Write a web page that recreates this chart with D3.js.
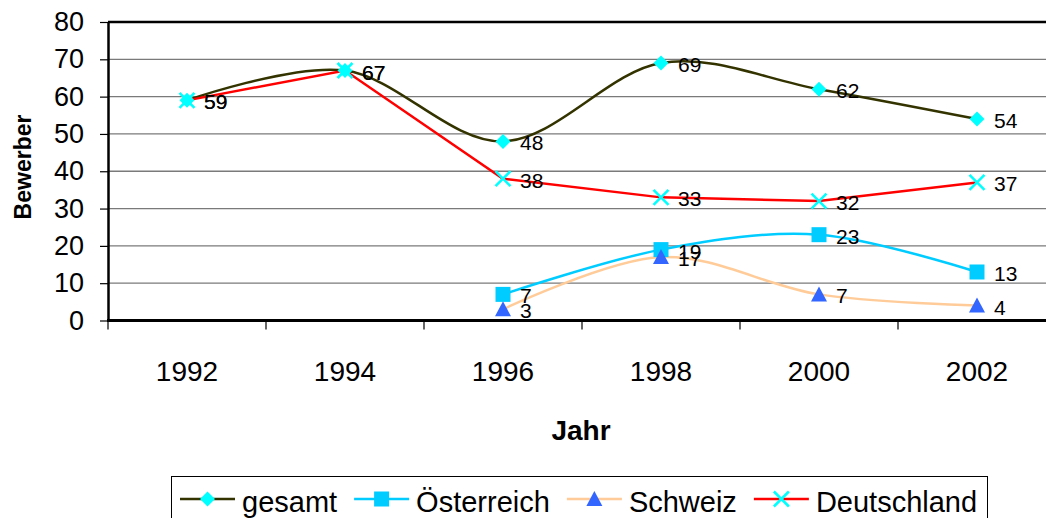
<!DOCTYPE html>
<html>
<head>
<meta charset="utf-8">
<script src="https://cdn.jsdelivr.net/npm/d3@7"></script>
<style>
body { margin: 0; background: #fff; }
svg { display: block; font-family: "Liberation Sans", Arial, sans-serif; }
</style>
</head>
<body>
<svg></svg>
<script>
// values
var years = ["1992", "1994", "1996", "1998", "2000", "2002"];
var gesamt = [59, 67, 48, 69, 62, 54];
var oesterreich = [null, null, 7, 19, 23, 13];
var schweiz = [null, null, 3, 17, 7, 4];
var deutschland = [59, 67, 38, 33, 32, 37];
var yTicks = [0, 10, 20, 30, 40, 50, 60, 70, 80];
var seriesNames = ["gesamt", "Österreich", "Schweiz", "Deutschland"];

var width = 1046;
var height = 518;

var series = [
  {name: seriesNames[0], values: gesamt, line: "#333300", marker: "diamond", fill: "#00ffff", smooth: true},
  {name: seriesNames[1], values: oesterreich, line: "#00ccff", marker: "square", fill: "#00ccff", smooth: true},
  {name: seriesNames[2], values: schweiz, line: "#ffcc99", marker: "triangle", fill: "#3366ff", smooth: true},
  {name: seriesNames[3], values: deutschland, line: "#ff0000", marker: "x", fill: "#00ffff", smooth: false}
];

var svg = d3.select("svg")
            .attr("width", width)
            .attr("height", height);

var x = d3.scaleBand().domain(years).range([108, 1056]);
var y = d3.scaleLinear().domain([0, 80]).range([320.5, 22]);
var cx = function(d){ return x(d) + x.bandwidth() / 2; };

// gridlines
svg.append("g")
   .selectAll("line")
   .data(yTicks.filter(function(d){ return d > 0 && d < 80; }))
   .enter()
   .append("line")
   .attr("x1", 108).attr("x2", width)
   .attr("y1", function(d){ return y(d); })
   .attr("y2", function(d){ return y(d); })
   .attr("stroke", "#7a7a7a")
   .attr("stroke-width", 1.3);

// top border
svg.append("line")
   .attr("x1", 108).attr("x2", width)
   .attr("y1", y(80)).attr("y2", y(80))
   .attr("stroke", "#000").attr("stroke-width", 2.5);

// y axis
var yAxis = svg.append("g")
   .attr("transform", "translate(108,0)")
   .call(d3.axisLeft(y).tickValues(yTicks).tickSize(8).tickSizeOuter(0).tickPadding(16));
yAxis.select(".domain").attr("stroke-width", 2.5);
yAxis.selectAll(".tick line").attr("stroke-width", 1.2);
yAxis.selectAll("text").attr("font-size", 27).attr("fill", "#000")
     .attr("font-family", "Liberation Sans, Arial, sans-serif");

// x axis labels
var xAxis = svg.append("g")
   .attr("transform", "translate(0," + y(0) + ")")
   .call(d3.axisBottom(x).tickSize(0).tickPadding(41));
xAxis.select(".domain").remove();
xAxis.selectAll("text").attr("font-size", 28).attr("fill", "#000")
     .attr("font-family", "Liberation Sans, Arial, sans-serif");

// x tick marks at category boundaries
svg.append("g")
   .selectAll("line")
   .data(years)
   .enter()
   .append("line")
   .attr("x1", function(d){ return x(d); })
   .attr("x2", function(d){ return x(d); })
   .attr("y1", y(0)).attr("y2", y(0) + 9)
   .attr("stroke", "#000").attr("stroke-width", 1.2);

svg.append("line")
   .attr("x1", 107).attr("x2", width)
   .attr("y1", y(0)).attr("y2", y(0))
   .attr("stroke", "#000").attr("stroke-width", 2.8);

// axis titles
svg.append("text")
   .attr("transform", "translate(31,167) rotate(-90)")
   .attr("text-anchor", "middle")
   .attr("font-size", 23).attr("font-weight", "bold")
   .text("Bewerber");

svg.append("text")
   .attr("x", 581).attr("y", 440)
   .attr("text-anchor", "middle")
   .attr("font-size", 28).attr("font-weight", "bold")
   .text("Jahr");

var drawMarker = function(g, type, fill){
  if (type == "x") {
    g.append("path")
     .attr("d", "M-7.5,-7.5L7.5,7.5M-7.5,7.5L7.5,-7.5")
     .attr("stroke", fill).attr("stroke-width", 2.5).attr("fill", "none");
  } else if (type == "diamond") {
    g.append("path")
     .attr("d", d3.symbol(d3.symbolSquare, 112)())
     .attr("transform", "rotate(45)")
     .attr("fill", fill);
  } else if (type == "square") {
    g.append("path")
     .attr("d", d3.symbol(d3.symbolSquare, 225)())
     .attr("fill", fill);
  } else {
    g.append("path")
     .attr("d", "M0,-8L8,7L-8,7Z")
     .attr("fill", fill);
  }
};

series.forEach(function(s){
  var pts = years.map(function(yr, i){ return {year: yr, value: s.values[i]}; })
                 .filter(function(d){ return d.value != null; });
  s.pts = pts;
  var line = d3.line()
     .x(function(d){ return cx(d.year); })
     .y(function(d){ return y(d.value); })
     .curve(s.smooth ? d3.curveCardinal.tension(0) : d3.curveLinear);
  svg.append("path")
     .datum(pts)
     .attr("d", line)
     .attr("fill", "none")
     .attr("stroke", s.line)
     .attr("stroke-width", 2.5);
});

series.forEach(function(s){
  s.pts.forEach(function(d){
    var g = svg.append("g")
       .attr("transform", "translate(" + cx(d.year) + "," + y(d.value) + ")");
    drawMarker(g, s.marker, s.fill);
  });
});

series.forEach(function(s){
  svg.append("g")
     .selectAll("text")
     .data(s.pts)
     .enter()
     .append("text")
     .attr("x", function(d){ return cx(d.year) + 17; })
     .attr("y", function(d){ return y(d.value) + 9; })
     .attr("font-size", 21)
     .text(function(d){ return d.value; });
});

// legend
var legend = svg.append("g");
legend.append("rect")
   .attr("x", 171.5).attr("y", 476.5)
   .attr("width", 816).attr("height", 80)
   .attr("fill", "#fff").attr("stroke", "#000").attr("stroke-width", 1);

var lx = 180;
series.forEach(function(s){
  legend.append("line")
     .attr("x1", lx).attr("x2", lx + 55)
     .attr("y1", 499).attr("y2", 499)
     .attr("stroke", s.line).attr("stroke-width", 2.5);
  var g = legend.append("g").attr("transform", "translate(" + (lx + 27.5) + ",499)");
  drawMarker(g, s.marker, s.fill);
  var t = legend.append("text")
     .attr("x", lx + 62).attr("y", 512)
     .attr("font-size", 29)
     .text(s.name);
  lx = lx + 62 + t.node().getComputedTextLength() + 17;
});
</script>
</body>
</html>
